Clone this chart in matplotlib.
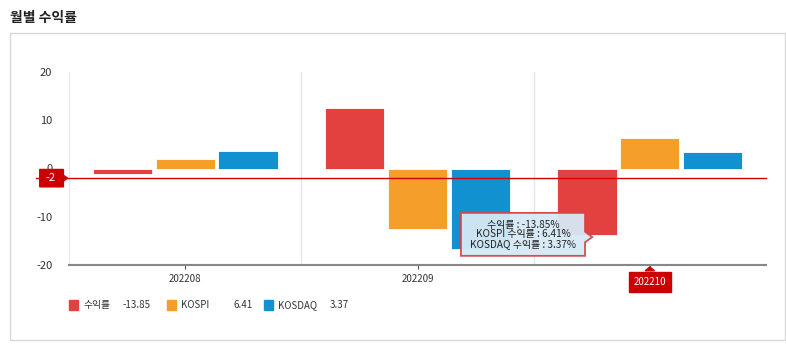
import matplotlib.pyplot as plt
import numpy as np
from matplotlib.patches import Rectangle, Polygon

plt.rcParams['font.family'] = ['Noto Sans CJK KR', 'DejaVu Sans']
plt.rcParams['axes.unicode_minus'] = False

months = ["202208", "202209", "202210"]
ret = [-1.1, 12.6, -13.85]
kospi = [2.0, -12.6, 6.41]
kosdaq = [3.7, -16.6, 3.37]
colors = ["#E34040", "#F59E29", "#1191D0"]
names = ["수익률", "KOSPI", "KOSDAQ"]
last_vals = ["-13.85", "6.41", "3.37"]
ref_line = -2

fig = plt.figure(figsize=(7.86, 3.55), dpi=100)
fig.text(10 / 786, 1 - 18 / 355, "월별 수익률", fontsize=10, fontweight="bold", va="center", color="#222222")
fig.patches.append(Rectangle((10 / 786, 1 - 340 / 355), 775 / 786, 307 / 355, transform=fig.transFigure,
                             fill=False, edgecolor="#d8d8d8", linewidth=1))

ax = fig.add_axes([69 / 786, 1 - 265 / 355, 697 / 786, 193 / 355])
x = np.arange(len(months))
w = 0.255
for i, vals in enumerate([ret, kospi, kosdaq]):
    ax.bar(x + (i - 1) * 0.27, vals, w, color=colors[i], edgecolor="white", linewidth=0.6, zorder=3)

ax.set_xlim(-0.5, 2.5)
ax.set_ylim(-20, 20)
ax.set_yticks([-20, -10, 0, 10, 20])
ax.set_xticks(x)
ax.set_xticklabels(["202208", "202209", ""], fontsize=7, color="#333333")
ax.tick_params(axis="y", length=0, labelsize=8, labelcolor="#333333", pad=12)
ax.tick_params(axis="x", length=3, color="#555555")
for s in ["top", "right"]:
    ax.spines[s].set_visible(False)
ax.spines["left"].set_color("#e6e6e6")
ax.spines["bottom"].set_color("#888888")
ax.spines["bottom"].set_linewidth(1.5)
for b in [0.5, 1.5]:
    ax.axvline(b, color="#e6e6e6", linewidth=1, zorder=1)

# reference line
ax.plot([-0.64, 2.5], [ref_line, ref_line], color="#D40000", linewidth=1, clip_on=False, zorder=4)
tr = ax.get_yaxis_transform()
ax.add_patch(Polygon([[-0.042, ref_line - 1.8], [-0.008, ref_line - 1.8], [-0.008, ref_line - 0.6],
                      [-0.002, ref_line], [-0.008, ref_line + 0.6], [-0.008, ref_line + 1.8],
                      [-0.042, ref_line + 1.8]], closed=True, transform=tr, color="#CC0000",
                     clip_on=False, zorder=5))
ax.text(-0.026, ref_line, "-2", transform=tr, color="white", fontsize=8, ha="center", va="center", zorder=6)

# highlighted x label
ax.annotate("202210", xy=(2, -20), xytext=(0, -12), textcoords="offset points", ha="center", va="center",
            fontsize=7, color="white",
            bbox=dict(boxstyle="square,pad=0.5", fc="#CC0000", ec="#CC0000"))
ax.add_patch(Polygon([[2 - 0.02, -21.2], [2, -20.4], [2 + 0.02, -21.2]], closed=True, color="#CC0000",
                     clip_on=False, zorder=5))

# tooltip
x0, x1, y0, y1 = 1.187, 1.721, -18.1, -9.2
ax.add_patch(Polygon([[x0, y0], [x1, y0], [x1, -15.3], [1.752, -14.2], [x1, -13.1], [x1, y1], [x0, y1]],
                     closed=True, fc="#D6E9F5", ec="#D64545", lw=1.3, alpha=0.95, zorder=7))
tip = "수익률 : -13.85%\nKOSPI 수익률 : 6.41%\nKOSDAQ 수익률 : 3.37%"
ax.text((x0 + x1) / 2, (y0 + y1) / 2, tip, fontsize=7.2, ha="center", va="center", linespacing=0.95,
        color="#222222", zorder=8)

# legend
ly = 1 - 305 / 355
items = [(69, 83, 123), (167, 181, 233), (264, 278, 330)]
for i, (sx, tx, vx) in enumerate(items):
    fig.patches.append(Rectangle((sx / 786, ly - 5 / 355), 9 / 786, 10 / 355, transform=fig.transFigure,
                                 color=colors[i]))
    fig.text(tx / 786, ly, names[i], fontsize=7, va="center", color="#333333")
    fig.text(vx / 786, ly, last_vals[i], fontsize=7, va="center", color="#333333")

plt.savefig("out.png", dpi=100)
